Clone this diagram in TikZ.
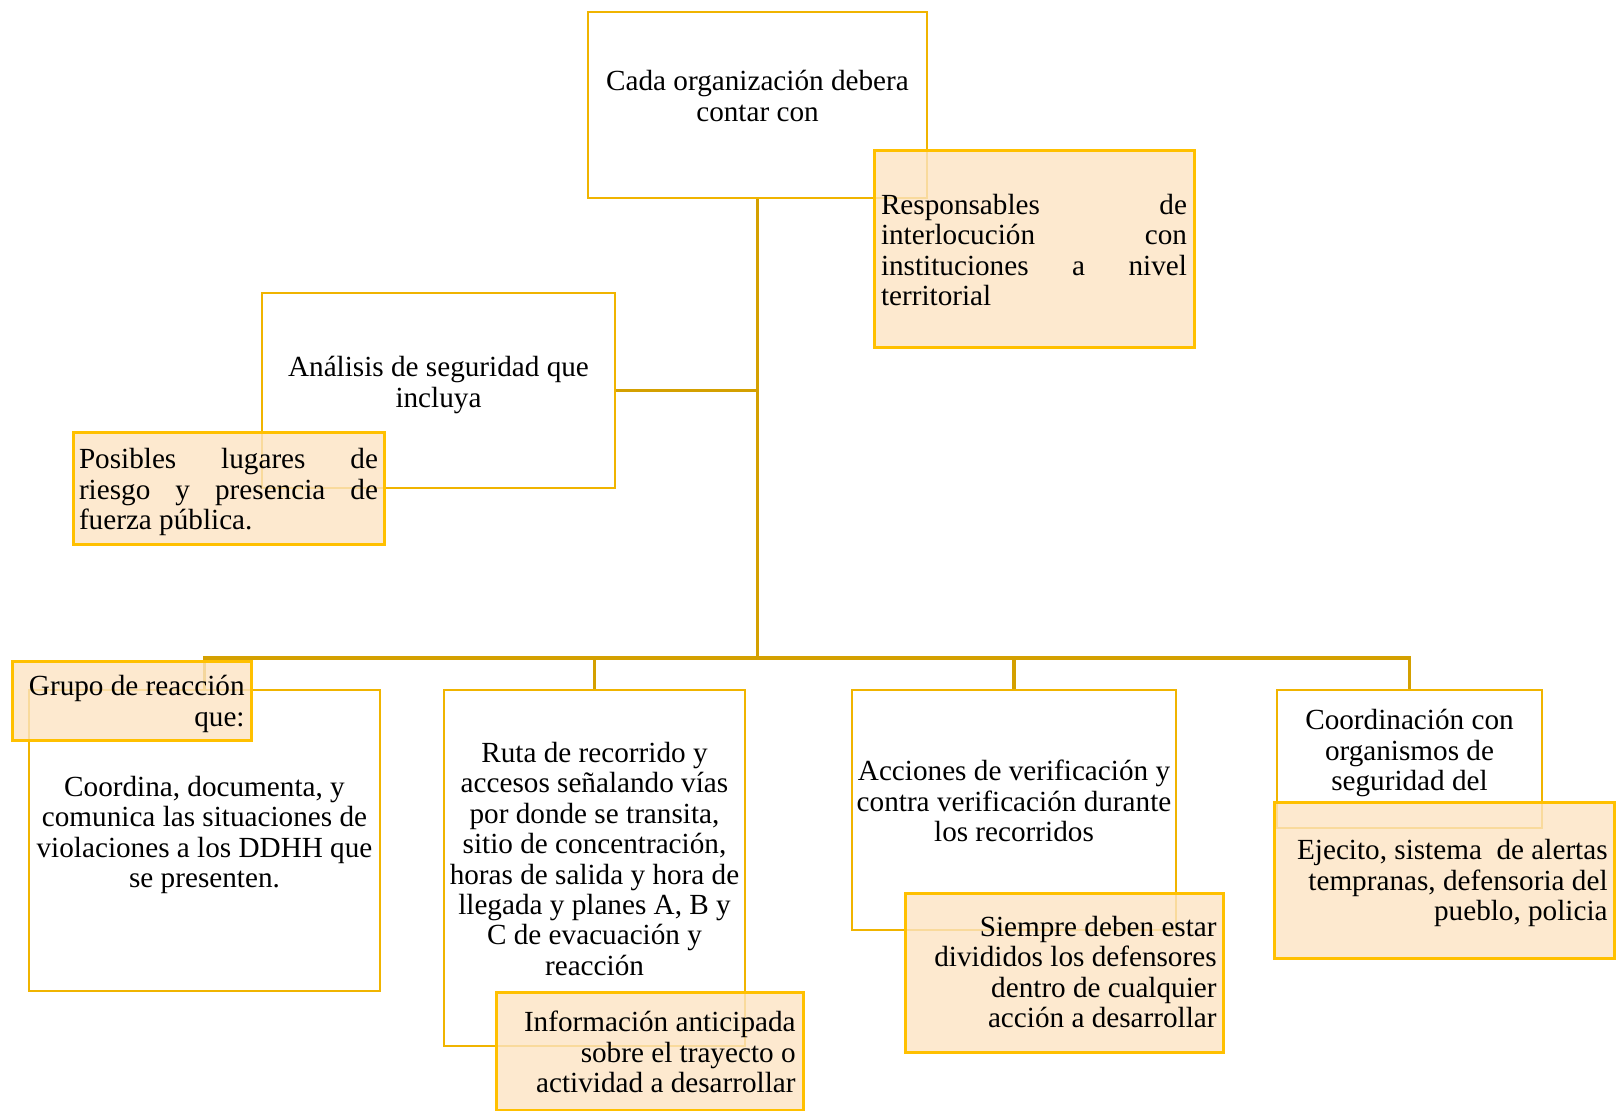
\documentclass[tikz,border=0pt]{standalone}
\usepackage{fontspec}
\setmainfont{Liberation Serif}

\definecolor{boxgold}{RGB}{240,180,0}
\definecolor{linegold}{RGB}{212,160,0}
\definecolor{notegold}{RGB}{255,192,0}
\definecolor{notefill}{RGB}{252,228,195}

\tikzset{
  wbox/.style={draw=boxgold, line width=1.4pt, inner sep=0pt},
  obox/.style={draw=notegold, line width=1.5pt, fill=notefill, fill opacity=0.8, inner sep=0pt},
  txt/.style={font=\fontsize{14.6}{15.2}\selectfont, align=center, inner sep=0pt},
  conn/.style={draw=linegold, line width=1.6pt}
}

\begin{document}
\begin{tikzpicture}[x=0.5pt, y=-0.5pt]
			\useasboundingbox (0,0) rectangle (1616,1111);

			% white boxes
			\node[wbox, minimum width=169.5pt, minimum height=93pt] (org) at (757.5,105) {};
			\node[wbox, minimum width=176.5pt, minimum height=97.5pt] (anal) at (438.5,390.5) {};
			\node[wbox, minimum width=175.5pt, minimum height=150.5pt] (coord) at (204.5,840.5) {};
			\node[wbox, minimum width=150.5pt, minimum height=178pt] (ruta) at (594.5,868) {};
			\node[wbox, minimum width=162pt, minimum height=120pt] (acc) at (1014,810) {};
			\node[wbox, minimum width=132.5pt, minimum height=69pt] (coordn) at (1409.5,759) {};

			\coordinate (hub) at (757.5,658);

			\draw[conn] (org.south) -- (hub);
			\draw[conn] (anal.east) -- (anal.east -| hub);
			\draw[conn] (hub) -| (coord.north);
			\draw[conn] (hub) -| (ruta.north);
			\draw[conn] (hub) -| (acc.north);
			\draw[conn] (hub) -| (coordn.north);

			% orange notes
			\node[obox, minimum width=160pt, minimum height=98.5pt] (resp) at (1034,249.5) {};
			\node[obox, minimum width=155.5pt, minimum height=56pt] (posib) at (228.5,489) {};
			\node[obox, minimum width=119.5pt, minimum height=39pt] (grupo) at (131.5,701) {};
			\node[obox, minimum width=153.5pt, minimum height=59pt] (info) at (649.5,1051) {};
			\node[obox, minimum width=159pt, minimum height=79.5pt] (siem) at (1064,972.5) {};
			\node[obox, minimum width=170pt, minimum height=78pt] (ejec) at (1444,880) {};

			% texts
			\node[txt] (torg) at (757.5,96) {Cada organización debera\\contar con};
			\node[txt, text width=153pt, align=justify] (tresp) at (1034,250) {Responsables de\linebreak interlocución con\linebreak instituciones a nivel\linebreak territorial};
			\node[txt] (tanal) at (438.5,385) {Análisis de seguridad que\\incluya};
			\node[txt, text width=149.5pt, align=justify] (tposib) at (228.5,492) {Posibles lugares de\linebreak riesgo y presencia de\linebreak fuerza pública.};
			\node[txt, align=right, anchor=east] (tgrupo) at (245,704) {Grupo de reacción\\que:};
			\node[txt] (tcoord) at (204.5,835) {Coordina, documenta, y\\comunica las situaciones de\\violaciones a los DDHH que\\se presenten.};
			\node[txt] (truta) at (594.5,859) {Ruta de recorrido y\\accesos señalando vías\\por donde se transita,\\sitio de concentración,\\horas de salida y hora de\\llegada y planes A, B y\\C de evacuación y\\reacción};
			\node[txt, align=right, anchor=east] (tinfo) at (796,1052) {Información anticipada\\sobre el trayecto o\\actividad a desarrollar};
			\node[txt] (tacc) at (1014,801) {Acciones de verificación y\\contra verificación durante\\los recorridos};
			\node[txt, align=right, anchor=east] (tsiem) at (1217,972) {Siempre deben estar\\divididos los defensores\\dentro de cualquier\\acción a desarrollar};
			\node[txt] (tcoordn) at (1409.5,753) {Coordinación con\\organismos de\\seguridad del};
			\node[txt, align=right, anchor=east] (tejec) at (1608,883) {Ejecito, sistema\ \ de alertas\\tempranas, defensoria del\\pueblo, policia};
		\end{tikzpicture}
\end{document}
